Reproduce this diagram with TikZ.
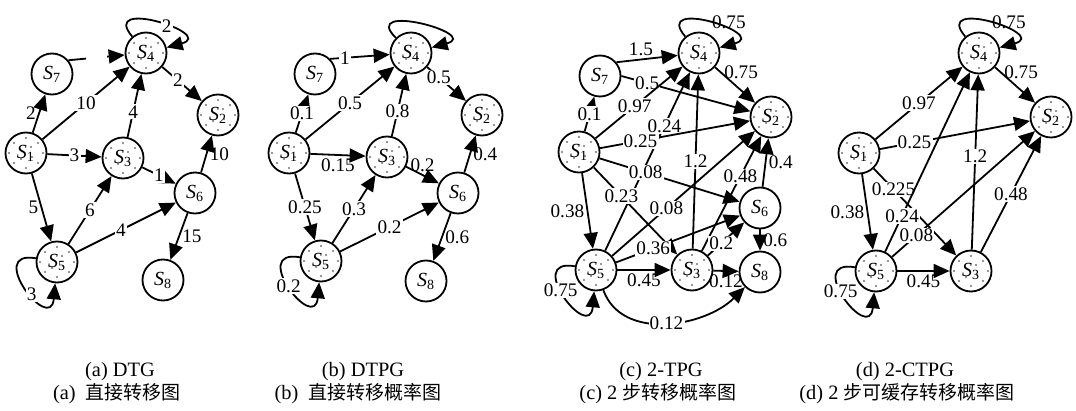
\documentclass[tikz,border=0pt]{standalone}
\usepackage{fontspec}
\setmainfont{Liberation Serif}
\newfontfamily\cjk{Noto Sans CJK SC}
\usetikzlibrary{arrows.meta}

\newcommand{\SN}[1]{\textit{S}\textsubscript{#1}}

\begin{document}
\begin{tikzpicture}[x=0.5pt,y=-0.5pt,
  st/.style={shape=circle,draw,fill=white,line width=0.9pt,minimum size=20.5pt,inner sep=0pt,font=\fontsize{10}{11}\selectfont},
  hot/.style={st,path picture={
    \foreach \dx/\dy in {-6/5,0/7.5,6/5,-8.5/0,8.5/0,-6/-5,0/-7.5,6/-5,-3/2,3/-2,2.5/3,-2.5/-3}
      \fill[black!55] (path picture bounding box.center) ++(\dx pt,\dy pt) circle (0.55pt);}},
  arr/.style={-{Triangle[length=8pt,width=7pt]},line width=0.9pt},
  lp/.style={looseness=1,min distance=26pt},
  w/.style={fill=white,inner sep=0.6pt,font=\fontsize{9.6}{11}\selectfont},
  lb/.style={inner sep=1.2pt,font=\fontsize{9.6}{11}\selectfont},
  captxt/.style={inner sep=0pt,font=\fontsize{10.2}{12}\selectfont}]
\useasboundingbox (0,0) rectangle (1076,411);

% (a) DTG
\node[hot] (a1) at (26,153) {\SN{1}};
\node[hot] (a2) at (218,115) {\SN{2}};
\node[hot] (a3) at (123,158) {\SN{3}};
\node[hot] (a4) at (146,53) {\SN{4}};
\node[hot] (a5) at (57,262) {\SN{5}};
\node[st] (a6) at (195,193) {\SN{6}};
\node[st] (a7) at (52,74) {\SN{7}};
\node[st] (a8) at (163,280) {\SN{8}};
\draw[arr] (a1) -- node[lb,left]{2} (a7);
\draw[arr] (a1) -- node[w]{10} (a4);
\draw[arr] (a1) -- node[w]{3} (a3);
\draw[arr] (a1) -- node[lb,left]{5} (a5);
\draw[arr] (a5) -- node[w]{6} (a3);
\draw[arr] (a5) -- node[w,pos=0.45]{4} (a6);
\draw[arr] (a3) -- node[w,pos=0.4]{4} (a4);
\draw[arr] (a3) -- node[w]{1} (a6);
\draw[arr] (a6) -- node[lb,right]{10} (a2);
\draw[arr] (a6) -- node[lb,right]{15} (a8);
\draw[arr] (a4) -- node[w,pos=0.4]{2} (a2);
\draw[arr] (a7.40) -- node[w]{\phantom{00}} (a4);
\draw[arr] (a4) to[out=130,in=15,lp] node[w,pos=0.6]{2} (a4);
\draw[arr] (a5) to[out=170,in=265,lp] node[w,pos=0.6]{3} (a5);

% (b) DTPG
\node[hot] (b1) at (289,153) {\SN{1}};
\node[hot] (b2) at (482,115) {\SN{2}};
\node[hot] (b3) at (387,157) {\SN{3}};
\node[hot] (b4) at (411,53) {\SN{4}};
\node[hot] (b5) at (321,261) {\SN{5}};
\node[st] (b6) at (458,193) {\SN{6}};
\node[st] (b7) at (315,74) {\SN{7}};
\node[st] (b8) at (426,281) {\SN{8}};
\draw[arr] (b1) -- node[w]{0.1} (b7);
\draw[arr] (b7.45) -- node[w,pos=0.25]{1} (b4);
\draw[arr] (b1) -- node[w]{0.5} (b4);
\draw[arr] (b1) -- node[lb,below]{0.15} (b3);
\draw[arr] (b1) -- node[w]{0.25} (b5);
\draw[arr] (b5) -- node[w]{0.3} (b3);
\draw[arr] (b5) -- node[w]{0.2} (b6);
\draw[arr] (b3) -- node[w,pos=0.4]{0.8} (b4);
\draw[arr] (b3) -- node[lb,above]{0.2} (b6);
\draw[arr] (b4) -- node[w,pos=0.3]{0.5} (b2);
\draw[arr] (b6) -- node[lb,right]{0.4} (b2);
\draw[arr] (b6) -- node[lb,right]{0.6} (b8);
\draw[arr] (b4) to[out=135,in=15,lp] (b4);
\draw[arr] (b5) to[out=170,in=265,lp] node[w,pos=0.5]{0.2} (b5);

% (c) 2-TPG
\node[hot] (c1) at (579,152) {\SN{1}};
\node[hot] (c2) at (771,117) {\SN{2}};
\node[hot] (c3) at (692,270) {\SN{3}};
\node[hot] (c4) at (699,53) {\SN{4}};
\node[hot] (c5) at (596,270) {\SN{5}};
\node[st] (c6) at (760,208) {\SN{6}};
\node[st] (c7) at (600,76) {\SN{7}};
\node[st] (c8) at (760,272) {\SN{8}};
\draw[arr] (c1) -- node[w]{0.1} (c7);
\draw[arr] (c7.40) -- node[lb,above,pos=0.4]{1.5} (c4);
\draw[arr] (c7.east) -- node[w,pos=0.2]{0.5} (c2);
\draw[arr] (c4) -- node[lb,pos=0.15,right]{0.75} (c2);
\draw[arr] (c1) -- node[w,pos=0.45]{0.97} (c4);
\draw[arr] (c5) -- node[w,pos=0.7]{0.24} (c4);
\draw[arr] (c1) -- node[w,pos=0.27]{0.25} (c2);
\draw[arr] (c3) -- node[w,pos=0.5]{1.2} (c4);
\draw[arr] (c1) -- node[w,pos=0.33]{0.08} (c6);
\draw[arr] (c1) -- node[w,pos=0.33]{0.23} (c3);
\draw[arr] (c1) -- node[lb,left]{0.38} (c5);
\draw[arr] (c5) -- node[w,pos=0.38]{0.08} (c2);
\draw[arr] (c3) -- node[w,pos=0.65]{0.48} (c2);
\draw[arr] (c6) -- node[lb,right]{0.4} (c2);
\draw[arr] (c5) -- node[w,pos=0.3]{0.36} (c6);
\draw[arr] (c3) -- node[w,pos=0.37]{0.2} (c6);
\draw[arr] (c6) -- node[lb,right]{0.6} (c8);
\draw[arr] (c5) -- node[lb,below]{0.45} (c3);
\draw[arr] (c3) -- node[lb,below]{0.12} (c8);
\draw[arr] (c5) to[out=-70,in=-135] node[w]{0.12} (c8);
\draw[arr] (c4) to[out=130,in=15,lp] node[lb,pos=0.5,anchor=west]{0.75} (c4);
\draw[arr] (c5) to[out=170,in=265,lp] node[w,pos=0.45]{0.75} (c5);

% (d) 2-CTPG
\node[hot] (d1) at (859,153) {\SN{1}};
\node[hot] (d2) at (1051,117) {\SN{2}};
\node[hot] (d3) at (971,271) {\SN{3}};
\node[hot] (d4) at (979,53) {\SN{4}};
\node[hot] (d5) at (876,271) {\SN{5}};
\draw[arr] (d4) -- node[lb,pos=0.15,right]{0.75} (d2);
\draw[arr] (d1) -- node[w]{0.97} (d4);
\draw[arr] (d1) -- node[w,pos=0.23]{0.25} (d2);
\draw[arr] (d1) -- node[w,pos=0.24]{0.225} (d3);
\draw[arr] (d1) -- node[lb,left]{0.38} (d5);
\draw[arr] (d5) -- node[w,pos=0.2]{0.24} (d4);
\draw[arr] (d3) -- node[w,pos=0.53]{1.2} (d4);
\draw[arr] (d5) -- node[w,pos=0.17]{0.08} (d2);
\draw[arr] (d3) -- node[w,pos=0.5]{0.48} (d2);
\draw[arr] (d5) -- node[lb,below]{0.45} (d3);
\draw[arr] (d4) to[out=130,in=15,lp] node[lb,pos=0.5,anchor=west]{0.75} (d4);
\draw[arr] (d5) to[out=170,in=265,lp] node[w,pos=0.45]{0.75} (d5);

% captions
\node[captxt] (ta) at (120,372) {(a) DTG};
\node[captxt] (tb) at (363,372) {(b) DTPG};
\node[captxt] (tc) at (661,372) {(c) 2-TPG};
\node[captxt] (td) at (905,372) {(d) 2-CTPG};
\node[captxt] (ca) at (117,394) {(a)\ \ {\cjk\fontsize{9.5}{12}\selectfont 直接转移图}};
\node[captxt] (cb) at (358,394) {(b)\ \ {\cjk\fontsize{9.5}{12}\selectfont 直接转移概率图}};
\node[captxt] (cc) at (658,394) {(c) 2 {\cjk\fontsize{9.5}{12}\selectfont 步转移概率图}};
\node[captxt] (cd) at (907,394) {(d) 2 {\cjk\fontsize{9.5}{12}\selectfont 步可缓存转移概率图}};
\end{tikzpicture}
\end{document}
